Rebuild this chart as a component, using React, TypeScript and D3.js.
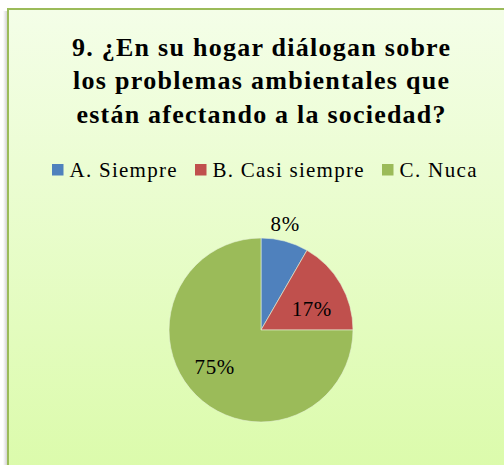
import React from 'react';
import * as d3 from 'd3';

const titleLines = [
  '9. ¿En su hogar diálogan sobre',
  'los problemas ambientales que',
  'están afectando a la sociedad?',
];
const categories = ['A. Siempre', 'B. Casi siempre', 'C. Nuca'];
const values = [8.33, 16.67, 75];
const labels = ['8%', '17%', '75%'];
const colors = ['#4F81BD', '#C0504D', '#9BBB59'];

const width = 504;
const height = 465;
const cx = 261;
const cy = 330;
const radius = 92;
const font = 'Liberation Serif, Times New Roman, Times, serif';

// the reference text runs a little wider than Liberation Serif, so lines get stretched to fit
const titleWidths = [378, 376, 369];
const legendWidths = [107, 151, 77];
const legendX = [52, 195, 382];

// label placement: radius fraction plus a small nudge, as the spreadsheet placed them
const labelPlace = [
  { r: 1.1, dx: -2, dy: -9 },
  { r: 0.65, dx: -1, dy: 9 },
  { r: 0.65, dx: -4, dy: -6 },
];

const App = () => {
  const pie = d3.pie<number>().sort(null).value(d => d);
  const arcs = pie(values);
  const arc = d3.arc<d3.PieArcDatum<number>>().innerRadius(0).outerRadius(radius);

  return (
    <svg width={width} height={height} style={{ position: 'absolute', left: 0, top: 0, fontFamily: font }}>
      <defs>
        <linearGradient id="bg" x1="0" y1="0" x2="0" y2="1">
          <stop offset="0%" stopColor="#F4FEE8" />
          <stop offset="100%" stopColor="#DAFBA8" />
        </linearGradient>
        <linearGradient id="shadow" x1="0" y1="0" x2="1" y2="0">
          <stop offset="0%" stopColor="#ffffff" />
          <stop offset="100%" stopColor="#c8c8c8" />
        </linearGradient>
      </defs>
      <rect x={3} y={11} width={5} height={height} fill="url(#shadow)" />
      <rect x={8} y={9} width={width + 20} height={height + 20} fill="url(#bg)" stroke="#9BBB59" strokeWidth={2} />

      <g style={{ fontFamily: font, fontWeight: 'bold', fontSize: 26 }} textAnchor="middle" fill="#000">
        {titleLines.map((t, i) => (
          <text key={i} x={cx} y={56 + i * 33.3} textLength={titleWidths[i]} lengthAdjust="spacing">{t}</text>
        ))}
      </g>

      <g style={{ fontFamily: font, fontSize: 21 }} fill="#000">
        {categories.map((c, i) => (
          <g key={c}>
            <rect x={legendX[i]} y={164} width={11.5} height={11.5} fill={colors[i]} />
            <text x={legendX[i] + 17.5} y={176.5} textLength={legendWidths[i]} lengthAdjust="spacing">{c}</text>
          </g>
        ))}
      </g>

      <g transform={`translate(${cx},${cy})`}>
        {arcs.map((a, i) => (
          <path key={i} d={arc(a) || ''} fill={colors[i]} stroke="#e6f3d6" strokeWidth={0.6} />
        ))}
        {arcs.map((a, i) => {
          const mid = (a.startAngle + a.endAngle) / 2;
          const p = labelPlace[i];
          const r = radius * p.r;
          const x = Math.sin(mid) * r + p.dx;
          const y = -Math.cos(mid) * r + p.dy;
          return (
            <text key={'l' + i} x={x} y={y} dy="0.35em" textAnchor="middle"
              style={{ fontFamily: font, fontSize: 21 }} fill="#000" letterSpacing={0.6}>
              {labels[i]}
            </text>
          );
        })}
      </g>
    </svg>
  );
};

export default App;
